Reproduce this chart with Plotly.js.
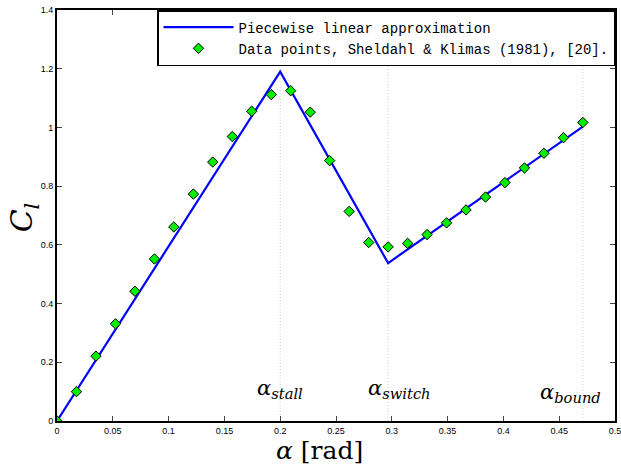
<!DOCTYPE html>
<html>
<head>
<meta charset="utf-8">
<script src="https://cdn.plot.ly/plotly-3.0.1.min.js"></script>
<style>html,body{margin:0;padding:0;background:#fff;}</style>
</head>
<body>
<div id="chart" style="width:621px;height:470px;"></div>
<script>
// Piecewise linear approximation
var lineAlpha = [0, 0.2, 0.2967, 0.4712];
var lineCl    = [0, 1.19, 0.538, 1.003];

// Data points, Sheldahl & Klimas (1981)
var dataAlpha = [0, 0.01745, 0.0349, 0.0524, 0.0698, 0.0873, 0.1047, 0.1222, 0.1396, 0.1571,
                 0.1745, 0.1920, 0.2094, 0.2269, 0.2443, 0.2618, 0.2793, 0.2967, 0.3142, 0.3316,
                 0.3491, 0.3665, 0.3840, 0.4014, 0.4189, 0.4363, 0.4538, 0.4712];
var dataCl = [0, 0.100, 0.221, 0.331, 0.442, 0.552, 0.661, 0.773, 0.882, 0.969,
              1.055, 1.112, 1.125, 1.052, 0.887, 0.714, 0.608, 0.593, 0.605, 0.635,
              0.675, 0.719, 0.763, 0.812, 0.862, 0.912, 0.965, 1.017];

// Vertical reference lines
var refNames = ["stall", "switch", "bound"];
var refAlpha = [0.2, 0.2967, 0.4712];

var xTicks = [0, 0.05, 0.1, 0.15, 0.2, 0.25, 0.3, 0.35, 0.4, 0.45, 0.5];
var xTickText = ["0", "0.05", "0.1", "0.15", "0.2", "0.25", "0.3", "0.35", "0.4", "0.45", "0.5"];
var yTicks = [0, 0.2, 0.4, 0.6, 0.8, 1, 1.2, 1.4];
var yTickText = ["0", "0.2", "0.4", "0.6", "0.8", "1", "1.2", "1.4"];

var traces = [];
refAlpha.forEach(function (a) {
  traces.push({
    x: [a, a], y: [0, 1.4], mode: 'lines', showlegend: false, hoverinfo: 'skip',
    line: {color: '#c4c4c4', width: 0.8, dash: '1px,2px'}
  });
});
traces.push({
  x: lineAlpha, y: lineCl, mode: 'lines', name: 'Piecewise linear approximation',
  line: {color: '#0000ff', width: 2.2}
});
traces.push({
  x: dataAlpha, y: dataCl, mode: 'markers', name: 'Data points, Sheldahl &amp; Klimas (1981), [20].',
  marker: {symbol: 'diamond', size: 8, color: '#00ee00', line: {color: '#000', width: 1}}
});

var labelX = [0.2, 0.307, 0.46];
var labelY = [0.11, 0.11, 0.095];
var annotations = refNames.map(function (n, i) {
  return {
    x: labelX[i], y: labelY[i], xref: 'x', yref: 'y', showarrow: false,
    text: '<i>α</i><sub><i>' + n + '</i></sub>',
    font: {family: 'DejaVu Serif', size: 21, color: '#000'}
  };
});
annotations.push({
  x: 0.471, y: -0.072, xref: 'paper', yref: 'paper', yanchor: 'middle', showarrow: false,
  text: '<i>α</i> [rad]', font: {family: 'DejaVu Serif', size: 25, color: '#000'}
});
annotations.push({
  x: -0.098, y: 0.495, xref: 'paper', yref: 'paper', showarrow: false, textangle: -90,
  text: '<i>C</i><sub><i>l</i></sub>', font: {family: 'DejaVu Serif', size: 30, color: '#000'}
});

var layout = {
  width: 621, height: 470,
  margin: {l: 57, r: 6, t: 10, b: 49},
  paper_bgcolor: '#fff', plot_bgcolor: '#fff',
  showlegend: true,
  legend: {
    x: 1, y: 1, xanchor: 'right', yanchor: 'top',
    bgcolor: '#fff', bordercolor: '#000', borderwidth: 1.5,
    font: {family: 'Liberation Mono', size: 14, color: '#000'},
    tracegroupgap: 0, itemwidth: 70
  },
  xaxis: {
    range: [0, 0.5], tickvals: xTicks, ticktext: xTickText, ticks: 'inside', ticklen: 5,
    showgrid: false, zeroline: false, showline: true, linecolor: '#000', linewidth: 2,
    mirror: 'ticks', ticklabeloverflow: 'allow',
    tickfont: {family: 'Liberation Sans', size: 9, color: '#000'}
  },
  yaxis: {
    range: [0, 1.4], tickvals: yTicks, ticktext: yTickText, ticks: 'inside', ticklen: 5,
    showgrid: false, zeroline: false, showline: true, linecolor: '#000', linewidth: 2,
    mirror: 'ticks', ticklabeloverflow: 'allow',
    tickfont: {family: 'Liberation Sans', size: 9, color: '#000'}
  },
  annotations: annotations
};

Plotly.newPlot('chart', traces, layout, {displayModeBar: false, staticPlot: true});
</script>
</body>
</html>
